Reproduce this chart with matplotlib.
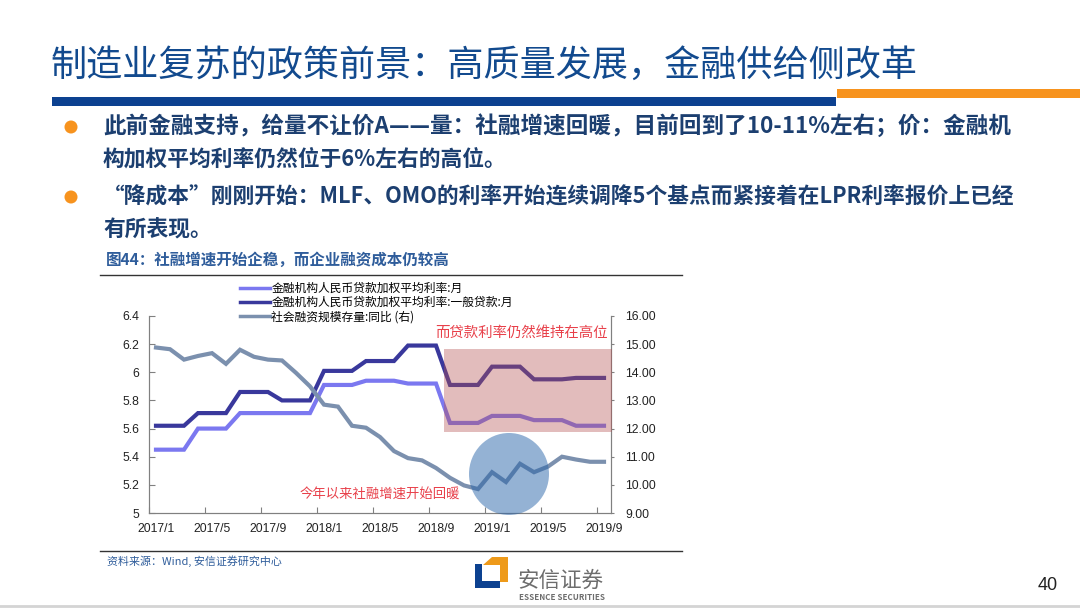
import numpy as np
import matplotlib
matplotlib.use('Agg')
import matplotlib.pyplot as plt
from matplotlib.lines import Line2D
from matplotlib.patches import Rectangle, Ellipse, Polygon

plt.rcParams['font.family'] = ['Noto Sans CJK SC', 'DejaVu Sans']

W, H = 1080, 608

# Chart data, monthly 2017/1 - 2019/9
rate_all = [5.45, 5.45, 5.45, 5.60, 5.60, 5.60, 5.71, 5.71, 5.71, 5.71, 5.71,
            5.71, 5.91, 5.91, 5.91, 5.94, 5.94, 5.94, 5.92, 5.92, 5.92, 5.64,
            5.64, 5.64, 5.69, 5.69, 5.69, 5.66, 5.66, 5.66, 5.62, 5.62, 5.62]
rate_general = [5.62, 5.62, 5.62, 5.71, 5.71, 5.71, 5.86, 5.86, 5.86, 5.80, 5.80,
                5.80, 6.01, 6.01, 6.01, 6.08, 6.08, 6.08, 6.19, 6.19, 6.19, 5.91,
                5.91, 5.91, 6.04, 6.04, 6.04, 5.95, 5.95, 5.95, 5.96, 5.96, 5.96]
tsf_growth = [14.88, 14.82, 14.45, 14.58, 14.68, 14.30, 14.80, 14.55, 14.45, 14.42,
              13.98, 13.50, 12.85, 12.78, 12.10, 12.03, 11.70, 11.20, 10.95, 10.87,
              10.60, 10.25, 9.98, 9.85, 10.45, 10.10, 10.75, 10.45, 10.65, 11.00,
              10.90, 10.82, 10.82]
month_labels = ['2017/1', '2017/5', '2017/9', '2018/1', '2018/5', '2018/9',
                '2019/1', '2019/5', '2019/9']
left_ticks = [5, 5.2, 5.4, 5.6, 5.8, 6, 6.2, 6.4]
left_labels = ['5', '5.2', '5.4', '5.6', '5.8', '6', '6.2', '6.4']
right_ticks = [9, 10, 11, 12, 13, 14, 15, 16]
right_labels = ['9.00', '10.00', '11.00', '12.00', '13.00', '14.00', '15.00', '16.00']

bullets = ['此前金融支持，给量不让价A——量：社融增速回暖，目前回到了10-11%左右；价：金融机',
           '构加权平均利率仍然位于6%左右的高位。',
           '“降成本”刚刚开始：MLF、OMO的利率开始连续调降5个基点而紧接着在LPR利率报价上已经',
           '有所表现。']
bullet_sizes = [16.26, 15.7, 15.64, 15.7]

NAVY = '#0c4190'
ORANGE = '#f7931e'

fig = plt.figure(figsize=(W / 100, H / 100), dpi=100, facecolor='white')

# Slide background layer works in pixels
bg = fig.add_axes([0, 0, 1, 1])
bg.set_xlim(0, W)
bg.set_ylim(H, 0)
bg.axis('off')

bg.text(51, 66, '制造业复苏的政策前景：高质量发展，金融供给侧改革', fontsize=26,
        color='#124a8e', va='center', ha='left')
bg.add_patch(Rectangle((52, 97), 784, 9, color=NAVY, lw=0))
bg.add_patch(Rectangle((837, 89), 243, 9, color=ORANGE, lw=0))

for yy in [127, 197]:
    bg.add_patch(Ellipse((71, yy), 13, 13, color=ORANGE, lw=0))
for yy, line, size in zip([126, 160, 197, 230], bullets, bullet_sizes):
    bg.text(103, yy, line, fontsize=size, color='#1c3f70', va='center', ha='left',
            fontweight='bold')

bg.text(106, 260, '图44：社融增速开始企稳，而企业融资成本仍较高', fontsize=11.2,
        color='#2f5d9b', va='center', ha='left', fontweight='bold')
bg.plot([100, 682], [275, 275], color='#333333', lw=1)
bg.plot([100, 682], [551, 551], color='#333333', lw=1)
bg.text(107, 561, '资料来源：Wind, 安信证券研究中心', fontsize=7.9, color='#2f5d9b',
        va='center', ha='left')

# Logo
bg.add_patch(Polygon([(475, 564), (482, 564), (482, 581), (500, 581), (500, 588),
                      (475, 588)], color=NAVY, lw=0))
bg.add_patch(Polygon([(492, 557), (508, 557), (508, 582), (500, 582), (500, 565),
                      (483, 565)], color='#ee9a1a', lw=0))
bg.text(518, 581, '安信证券', fontsize=15.5, color='#6d6d6d', va='center', ha='left')
bg.text(519, 597, 'ESSENCE SECURITIES', fontsize=5.8, color='#6d6d6d', va='center',
        ha='left', fontweight='bold')
bg.text(1048, 586, '40', fontsize=13, color='#222222', va='center', ha='center',
        family='Liberation Sans')
bg.plot([0, W], [606, 606], color='#d4d4d4', lw=2)

# Chart axes
ax_l, ax_r, ax_t, ax_b = 149, 611, 316, 513
ax = fig.add_axes([ax_l / W, 1 - ax_b / H, (ax_r - ax_l) / W, (ax_b - ax_t) / H])
ax.patch.set_alpha(0)
ax2 = ax.twinx()

x = np.arange(len(rate_all))
tick_font = {'fontsize': 8.8, 'family': 'Liberation Sans', 'color': '#222222'}

ax2.plot(x, tsf_growth, color='#7b90ae', lw=3, solid_joinstyle='miter', zorder=2)
ax.plot(x, rate_all, color='#7b78f0', lw=3, solid_joinstyle='miter')
ax.plot(x, rate_general, color='#39389c', lw=3, solid_joinstyle='miter')

ax.set_xlim(-0.5, 32.5)
ax.set_ylim(5, 6.4)
ax2.set_ylim(9, 16)
ax.set_xticks(np.arange(-0.5, 32, 4))
ax.set_xticklabels([])
ax.set_xticks(np.arange(0, 33, 4), minor=True)
ax.set_xticklabels(month_labels, minor=True, **tick_font)
ax.tick_params(axis='x', which='major', direction='in', length=4, color='#808080')
ax.tick_params(axis='x', which='minor', length=0, pad=7)
ax.set_yticks(left_ticks)
ax.set_yticklabels(left_labels, **tick_font)
ax.tick_params(axis='y', direction='in', length=4, color='#808080', pad=7)
ax2.set_yticks(right_ticks)
ax2.set_yticklabels(right_labels, **tick_font)
ax2.tick_params(axis='y', direction='out', length=2, color='#808080', pad=8)

for a in [ax, ax2]:
    a.spines['top'].set_visible(False)
    for side in ['left', 'right', 'bottom']:
        a.spines[side].set_color('#808080')

# Overlays drawn in pixels above the chart
top = fig.add_axes([0, 0, 1, 1])
top.set_xlim(0, W)
top.set_ylim(H, 0)
top.axis('off')
top.add_patch(Rectangle((444, 349), 168, 83, color='#b5504f', alpha=0.38, lw=0))
top.add_patch(Ellipse((509, 474), 80, 82, color='#2b66aa', alpha=0.5, lw=0))
top.text(521, 333, '而贷款利率仍然维持在高位', fontsize=10.4, color='#e8404a',
         va='center', ha='center')
top.text(380, 494, '今年以来社融增速开始回暖', fontsize=9.6, color='#e8404a',
         va='center', ha='center')

handles = [Line2D([], [], color='#7b78f0', lw=2.5),
           Line2D([], [], color='#39389c', lw=2.5),
           Line2D([], [], color='#7b90ae', lw=2.5)]
labels = ['金融机构人民币贷款加权平均利率:月', '金融机构人民币贷款加权平均利率:一般贷款:月',
          '社会融资规模存量:同比 (右)']
top.legend(handles, labels, loc='upper left', bbox_to_anchor=(240 / W, 1 - 282 / H),
           bbox_transform=fig.transFigure, frameon=False, fontsize=8.5, labelspacing=0.1,
           handlelength=2.55, handletextpad=0.1, borderpad=0, borderaxespad=0)

fig.savefig('out.png', dpi=100)
